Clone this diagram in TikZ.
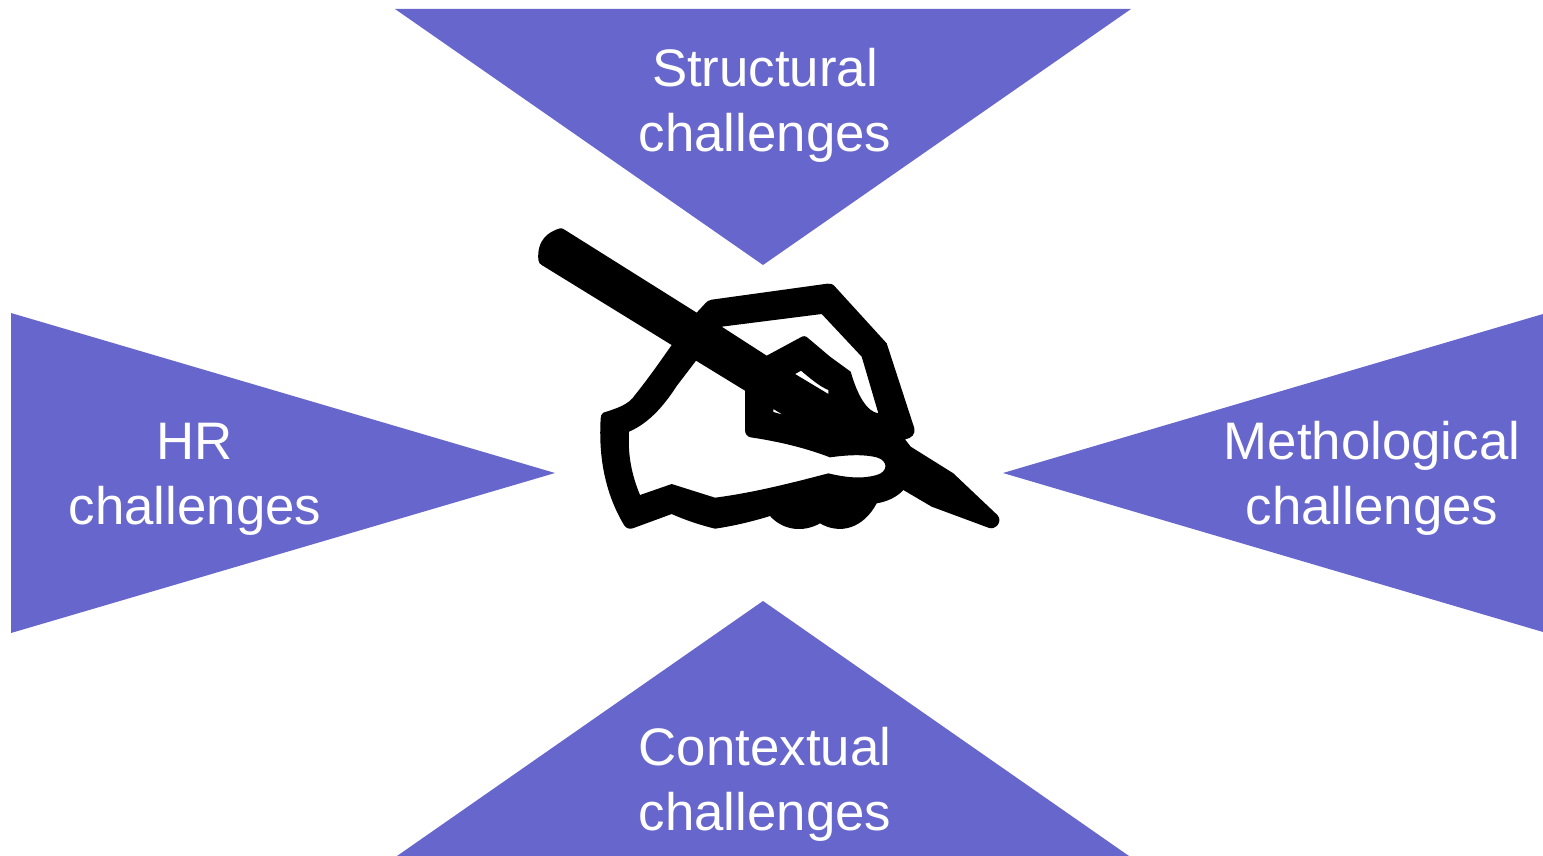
\documentclass[tikz,border=0pt]{standalone}
\usepackage{fontspec}
\setmainfont{Liberation Sans}
\definecolor{wedge}{RGB}{102,102,204}
\tikzset{
  wedgeshape/.style={fill=wedge,draw=none},
  wedgelabel/.style={text=white,align=center,inner sep=0pt,font=\fontsize{26.4}{32.5}\selectfont},
}
\begin{document}
\begin{tikzpicture}[x=0.5pt,y=-0.5pt]
\useasboundingbox (0,0) rectangle (1543,856);
\fill[wedgeshape] (395,9) -- (1131,9) -- (763,265) -- cycle;
\fill[wedgeshape] (11,313) -- (555,473) -- (11,633) -- cycle;
\fill[wedgeshape] (1543,314) -- (1003,473) -- (1543,632) -- cycle;
\fill[wedgeshape] (763,601) -- (1129,856) -- (397,856) -- cycle;
\node[wedgelabel] (structural) at (765,105) {Structural\\challenges};
\node[wedgelabel] (hr) at (195,479) {HR\\challenges};
\node[wedgelabel] (method) at (1372,478.5) {Methological\\challenges};
\node[wedgelabel] (contextual) at (765,784.5) {Contextual\\challenges};
% hand and pen, traced at 3x from origin (520,210)
\begin{scope}[x=0.16667pt,y=-0.16667pt,shift={(1560,630)}]
\fill[black,even odd rule]
  (120,55) .. controls (85,65) and (50,90) .. (55,150)
  .. controls (56,158) and (60,162) .. (65,165)
  -- (455,405)
  .. controls (420,455) and (385,505) .. (345,555)
  .. controls (325,585) and (290,595) .. (250,608)
  .. controls (244,612) and (242,618) .. (242,625)
  .. controls (235,740) and (255,850) .. (312,945)
  .. controls (318,955) and (328,958) .. (338,955)
  -- (455,912)
  .. controls (495,930) and (540,945) .. (585,956)
  .. controls (640,948) and (695,935) .. (750,918)
  .. controls (790,962) and (850,968) .. (900,940)
  .. controls (960,975) and (1030,955) .. (1070,880)
  .. controls (1100,875) and (1130,862) .. (1150,840)
  -- (1235,890)
  -- (1405,953) .. controls (1425,962) and (1450,935) .. (1432,915)
  -- (1300,790)
  -- (1172,710)
  -- (1155,688)
  .. controls (1175,685) and (1188,672) .. (1182,652)
  -- (1100,400)
  -- (945,230) .. controls (938,222) and (932,220) .. (922,221)
  -- (575,269) .. controls (565,270) and (560,275) .. (555,281)
  -- (530,308)
  -- (135,60) .. controls (130,56) and (125,54) .. (120,55) -- cycle
  % back of the hand
  (605,350) -- (905,312) -- (1025,440) -- (1075,610)
  .. controls (1040,605) and (1012,555) .. (992,485)
  -- (930,440) -- (865,385) .. controls (858,378) and (850,376) .. (842,382)
  -- (740,437) -- cycle
  % palm
  (528,452) -- (675,542) -- (675,660)
  .. controls (675,672) and (682,680) .. (692,682)
  .. controls (780,695) and (860,715) .. (930,742)
  .. controls (980,735) and (1030,732) .. (1070,742)
  .. controls (1105,752) and (1105,785) .. (1070,795)
  .. controls (1025,808) and (975,802) .. (925,790)
  .. controls (810,820) and (700,848) .. (585,863)
  -- (455,822) -- (360,855)
  .. controls (335,795) and (323,735) .. (327,665)
  .. controls (385,640) and (430,590) .. (470,528)
  -- cycle
  % slits between the fingers
  (825,492) -- (843,482) .. controls (870,505) and (900,530) .. (925,540) -- (925,552) -- cycle
  (760,597) -- (788,614) -- (760,606) -- cycle;
\end{scope}
\end{tikzpicture}
\end{document}
